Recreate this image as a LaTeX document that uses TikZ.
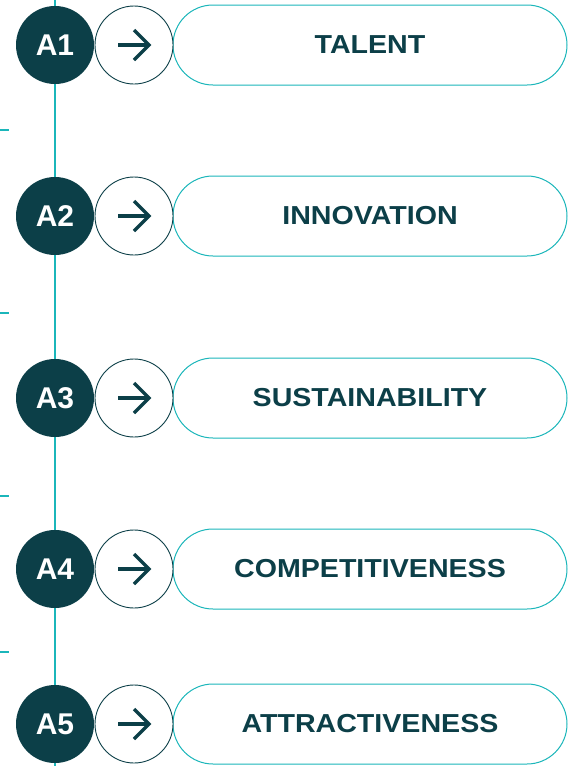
\documentclass[tikz,border=0pt]{standalone}
\usepackage{fontspec}
\setmainfont{Liberation Sans}
\begin{document}
\begin{tikzpicture}[x=1pt,y=-1pt,
  badge/.style={circle,fill=darkteal,draw=none,minimum size=78pt,inner sep=0pt,
    text=white,font=\fontsize{30}{30}\selectfont\bfseries},
  ring/.style={circle,draw=darkteal,line width=0.9pt,fill=white,minimum size=78pt,inner sep=0pt},
  pill/.style={rounded corners=40pt,draw=teal2,line width=1pt,fill=white,
    minimum width=394pt,minimum height=80pt,inner sep=0pt,text=darkteal,
    font=\fontsize{26}{26}\selectfont\bfseries},
  spine/.style={draw=teal2,line width=1.8pt},
  tick/.style={draw=teal2,line width=1.1pt},
  arrowline/.style={draw=darkteal,line width=3.3pt,line cap=butt,line join=miter}]
\definecolor{darkteal}{HTML}{0C3F48}
\definecolor{teal2}{HTML}{1BB6BA}
\useasboundingbox (0,0) rectangle (570,766);
% timeline spine and edge ticks
\coordinate (top) at (55,0);
\coordinate (bot) at (55,766);
\draw[spine] (top) -- (bot);
\foreach \ty [count=\k] in {130,313,496,652}{
  \coordinate (tl\k) at (0,\ty);
  \coordinate (tr\k) at (9,\ty);
  \draw[tick] (tl\k) -- (tr\k);
}
% rows: badge, arrow ring, label pill
\foreach \yy/\lab/\txt in {45/A1/TALENT,216/A2/INNOVATION,398/A3/SUSTAINABILITY,569/A4/COMPETITIVENESS,724/A5/ATTRACTIVENESS}{
  \node[pill] (p\lab) at (370,\yy) {\scalebox{1.1}[1]{\txt}};
  \node[ring] (r\lab) at (134,\yy) {};
  \node[badge] (b\lab) at (55,\yy) {\lab};
  \draw[arrowline] ([xshift=-16pt]r\lab.center) -- ([xshift=14pt]r\lab.center);
  \draw[arrowline] ([xshift=0pt,yshift=-15pt]r\lab.center) -- ([xshift=15pt]r\lab.center) -- ([xshift=0pt,yshift=15pt]r\lab.center);
}
\end{tikzpicture}
\end{document}
